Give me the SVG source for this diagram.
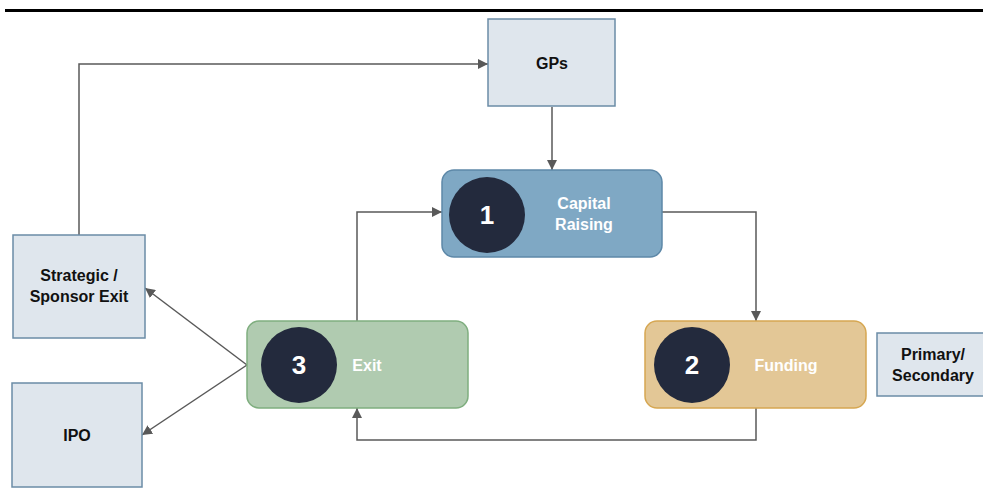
<svg xmlns="http://www.w3.org/2000/svg" width="983" height="491" viewBox="0 0 983 491">
<defs>
<marker id="ah" viewBox="0 0 10 10" refX="10" refY="5" markerWidth="10" markerHeight="10" markerUnits="userSpaceOnUse" orient="auto">
<path d="M0,0 L10,5 L0,10 Z" fill="#595959"/>
</marker>
<style>
.lt{fill:#dfe6ed;stroke:#6b8ca6;stroke-width:1.5}
.c{fill:#232a3d}
.num{font-family:"Liberation Sans",Arial,sans-serif;font-weight:bold;font-size:26px;fill:#fff;text-anchor:middle}
.wt{font-family:"Liberation Sans",Arial,sans-serif;font-weight:bold;font-size:16px;fill:#fff;text-anchor:middle}
.bt{font-family:"Liberation Sans",Arial,sans-serif;font-weight:bold;font-size:16px;fill:#111;text-anchor:middle}
.ln{fill:none;stroke:#595959;stroke-width:1.5}
</style>
</defs>
<rect x="5" y="9" width="978" height="3" fill="#000"/>
<g id="connectors">
<path class="ln" d="M79,235 V64 H488" marker-end="url(#ah)"/>
<path class="ln" d="M552,107 V170" marker-end="url(#ah)"/>
<path class="ln" d="M662,212 H756 V321" marker-end="url(#ah)"/>
<path class="ln" d="M756,408 V440 H357 V408" marker-end="url(#ah)"/>
<path class="ln" d="M357,321 V212 H442" marker-end="url(#ah)"/>
<path class="ln" d="M247,365 L145,288" marker-end="url(#ah)"/>
<path class="ln" d="M247,365 L142,435" marker-end="url(#ah)"/>
</g>
<g id="gps">
<rect class="lt" x="488" y="19" width="127" height="87"/>
<text class="bt" x="552" y="69">GPs</text>
</g>
<g id="capital">
<rect x="442" y="170" width="220" height="87" rx="12" fill="#7fa8c4" stroke="#5d88a8" stroke-width="1.5"/>
<circle class="c" cx="487" cy="215" r="38"/>
<text class="num" x="487" y="224">1</text>
<text class="wt" x="584" y="209">Capital</text>
<text class="wt" x="584" y="230">Raising</text>
</g>
<g id="funding">
<rect x="645" y="321" width="221" height="87" rx="12" fill="#e3c796" stroke="#d6a752" stroke-width="1.5"/>
<circle class="c" cx="692" cy="365" r="38"/>
<text class="num" x="692" y="374">2</text>
<text class="wt" x="786" y="371">Funding</text>
</g>
<g id="exit">
<rect x="247" y="321" width="221" height="87" rx="12" fill="#b0cbb0" stroke="#7fae7f" stroke-width="1.5"/>
<circle class="c" cx="299" cy="365" r="38"/>
<text class="num" x="299" y="374">3</text>
<text class="wt" x="367" y="371">Exit</text>
</g>
<g id="strategic">
<rect class="lt" x="13" y="235" width="132" height="103"/>
<text class="bt" x="79" y="281">Strategic /</text>
<text class="bt" x="79" y="302">Sponsor Exit</text>
</g>
<g id="ipo">
<rect class="lt" x="12" y="383" width="130" height="104"/>
<text class="bt" x="77" y="441">IPO</text>
</g>
<g id="primary">
<rect class="lt" x="877" y="333" width="110" height="63"/>
<text class="bt" x="933" y="360">Primary/</text>
<text class="bt" x="933" y="381">Secondary</text>
</g>
</svg>
